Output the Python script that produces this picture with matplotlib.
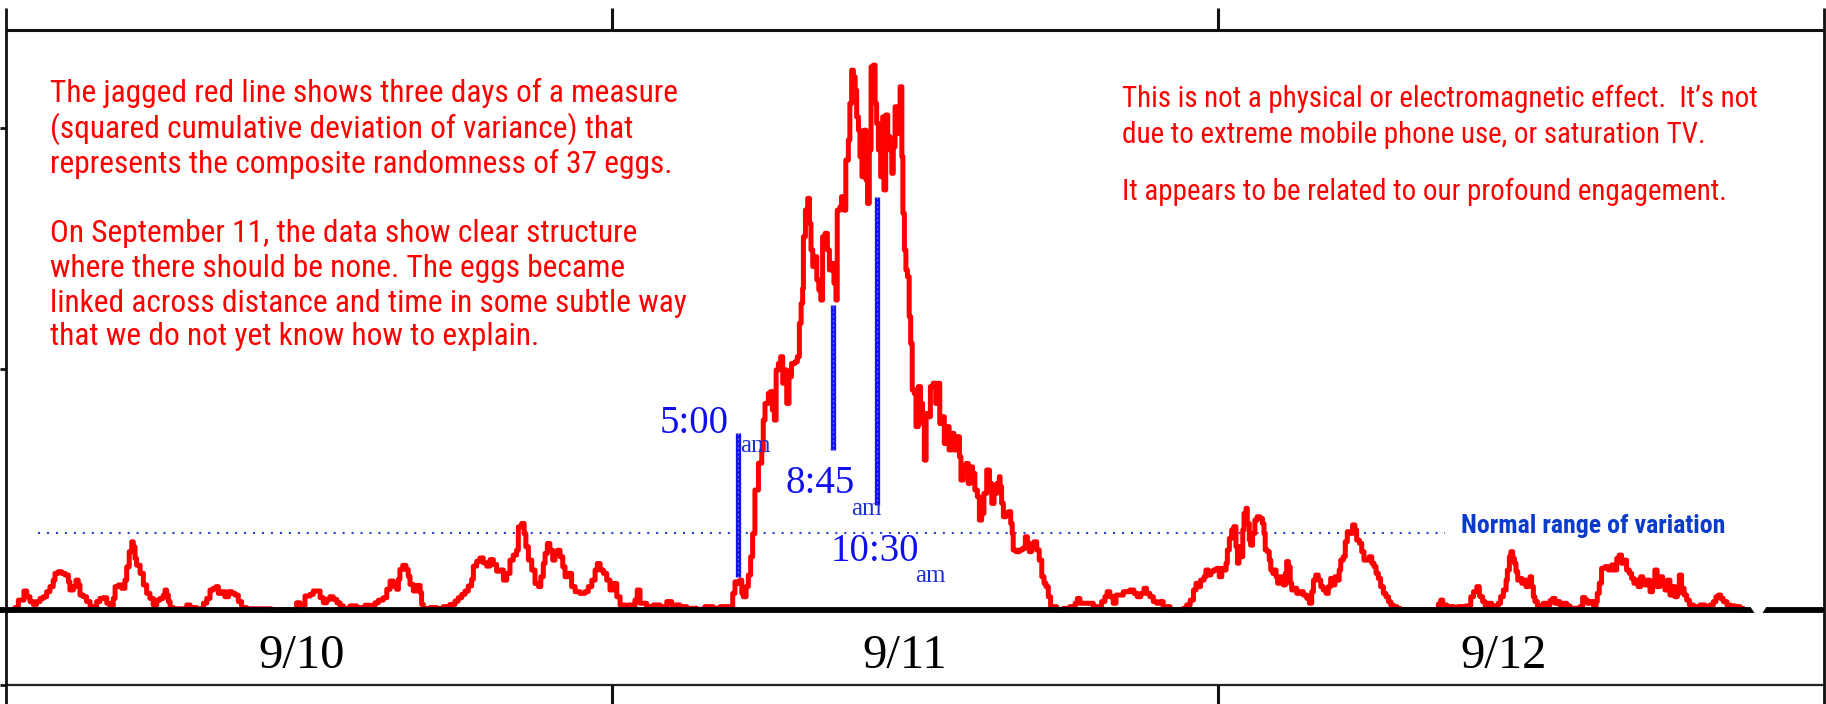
import matplotlib
matplotlib.use("Agg")
import matplotlib.pyplot as plt
from matplotlib import font_manager

# ---------------- data (hours since 9/10 00:00, deviation measure) ----------------
hours = [
    0.30, 0.36, 0.49, 0.71, 0.82, 0.95, 1.08, 1.21, 1.35, 1.48, 1.61, 1.74, 1.87, 1.94, 2.07, 2.20, 2.34,
    2.47, 2.53, 2.67, 2.77, 2.86, 2.93, 3.06, 3.19, 3.33, 3.46, 3.59, 3.72, 3.85, 3.99, 4.12, 4.25, 4.32,
    4.45, 4.58, 4.71, 4.78, 4.88, 4.98, 5.04, 5.11, 5.17, 5.31, 5.44, 5.57, 5.70, 5.83, 5.97, 6.10, 6.23,
    6.30, 6.36, 6.43, 6.50, 6.63, 6.89, 7.16, 7.29, 7.55, 7.82, 7.95, 8.08, 8.21, 8.32, 8.41, 8.54, 8.67,
    8.81, 8.94, 9.07, 9.20, 9.33, 9.53, 10.50,
    11.51, 11.64, 11.84, 12.04, 12.17, 12.30, 12.44, 12.57, 12.70, 12.83, 12.96, 13.10, 13.23, 13.36,
    13.62, 13.89, 14.22, 14.42, 14.61, 14.75, 14.94, 15.08, 15.21, 15.34, 15.47, 15.54, 15.60, 15.71,
    15.84, 15.93, 16.00, 16.13, 16.26, 16.40, 16.46, 16.53, 16.79, 17.06, 17.32, 17.58, 17.78, 17.91,
    18.05, 18.18, 18.31, 18.44, 18.51, 18.64, 18.77, 18.90, 19.04, 19.17, 19.30, 19.43,
    19.56, 19.70, 19.83, 19.96, 20.09, 20.22, 20.29, 20.42, 20.52, 20.59, 20.69, 20.82, 20.95, 21.09,
    21.18, 21.28, 21.35, 21.44, 21.54, 21.65, 21.74, 21.84, 21.94, 22.05, 22.14, 22.27, 22.40, 22.54,
    22.73, 22.93, 23.06, 23.20, 23.33, 23.42, 23.53, 23.66, 23.79, 23.92, 24.05, 24.19, 24.32, 24.52,
    24.65, 24.78, 24.91, 25.00, 25.11, 25.37, 25.64, 25.90, 26.17, 26.36, 26.69, 26.96, 27.35, 27.68,
    28.01, 28.28, 28.68, 28.78, 28.87, 28.97, 29.07, 29.14, 29.20, 29.31, 29.40, 29.49, 29.57,
    29.66, 29.80, 29.93, 29.99, 30.06, 30.19, 30.28, 30.35, 30.43, 30.50, 30.59, 30.68, 30.76, 30.85,
    30.92, 31.01, 31.11, 31.25, 31.34, 31.42, 31.49, 31.55, 31.58, 31.66, 31.75, 31.82, 31.88, 31.95,
    32.04, 32.11, 32.19, 32.27, 32.34, 32.44, 32.53, 32.61, 32.70, 32.79, 32.87, 32.92, 33.03, 33.09,
    33.19, 33.26, 33.36, 33.42, 33.49, 33.56, 33.63, 33.69, 33.76, 33.82, 33.90, 33.98, 34.06, 34.12,
    34.19, 34.26, 34.35, 34.42, 34.48, 34.55, 34.64, 34.72, 34.77, 34.84, 34.92, 35.01, 35.08, 35.14,
    35.21, 35.28, 35.35, 35.41, 35.48, 35.52, 35.58, 35.64, 35.70, 35.77, 35.83, 35.89, 35.97, 36.04,
    36.13, 36.22, 36.30, 36.37, 36.44, 36.53, 36.61, 36.72, 36.82, 36.92, 36.98, 37.08, 37.16, 37.25,
    37.35, 37.45, 37.54, 37.65, 37.76, 37.82, 37.91, 38.02, 38.11, 38.18, 38.28, 38.37, 38.47, 38.55,
    38.64, 38.73, 38.84, 38.95, 39.04, 39.13, 39.24, 39.34,
    39.37, 39.43, 39.50, 39.60, 39.70, 39.79, 39.85, 39.89, 40.00, 40.13, 40.26, 40.37, 40.45, 40.53,
    40.62, 40.71, 40.82, 40.92, 41.02, 41.11, 41.19, 41.28, 41.37, 41.61, 41.88, 42.14, 42.34, 42.43,
    42.53, 42.80, 43.06, 43.26, 43.39, 43.52, 43.61, 43.72, 43.85, 43.96, 44.12, 44.25, 44.38, 44.51,
    44.67, 44.80, 44.94, 45.07, 45.17, 45.30, 45.44, 45.57, 45.70, 45.83, 46.10, 46.36, 46.63, 46.76,
    46.90, 47.03, 47.13, 47.22, 47.31, 47.45, 47.52, 47.62, 47.71, 47.82, 47.95, 48.05, 48.15, 48.25,
    48.32, 48.37, 48.45, 48.54, 48.63, 48.71, 48.77,
    48.83, 48.90, 48.98, 49.03, 49.11, 49.16, 49.24, 49.29, 49.37, 49.46, 49.55, 49.66, 49.76, 49.82,
    49.87, 49.95, 50.03, 50.09, 50.17, 50.23, 50.30, 50.36, 50.46, 50.54, 50.59, 50.67, 50.72, 50.79,
    50.86, 50.92, 51.01, 51.12, 51.25, 51.38, 51.52, 51.62, 51.71, 51.78, 51.87, 51.97, 52.07, 52.17,
    52.28, 52.37, 52.46, 52.54, 52.63, 52.73, 52.80, 52.86, 52.96, 53.04, 53.12, 53.23, 53.33, 53.42,
    53.49, 53.60, 53.69, 53.78, 53.89, 53.99, 54.09, 54.18, 54.26, 54.35, 54.44, 54.55, 54.65, 54.75,
    54.84, 54.94, 55.08, 55.21, 55.47, 56.00, 56.53, 56.73, 56.82, 56.90, 57.06, 57.32, 57.52, 57.72,
    57.82, 57.92, 58.01, 58.12, 58.25, 58.35,
    58.38, 58.48, 58.58, 58.71, 58.84, 58.97, 59.10, 59.19, 59.30, 59.41, 59.46, 59.54, 59.60, 59.67,
    59.74, 59.80, 59.87, 59.93, 60.03, 60.12, 60.20, 60.29, 60.36, 60.42, 60.49, 60.55, 60.65, 60.75,
    60.88, 61.02, 61.15, 61.25, 61.35, 61.44, 61.54, 61.68, 61.81, 61.94, 62.20, 62.34, 62.44, 62.53,
    62.63, 62.73, 62.87, 62.97, 63.02, 63.10, 63.19, 63.33, 63.46, 63.59, 63.68, 63.79, 63.89, 63.98,
    64.08, 64.18, 64.29, 64.38, 64.47, 64.55, 64.64, 64.74, 64.82, 64.91, 65.00, 65.11, 65.21, 65.30,
    65.39, 65.50, 65.61, 65.70, 65.80, 65.90, 66.01, 66.10, 66.19, 66.27, 66.36, 66.46, 66.56, 66.67,
    66.83, 67.09, 67.29, 67.49, 67.62, 67.72, 67.82, 67.91, 68.01, 68.15, 68.28, 68.48, 68.67, 68.80,
]

deviation = [
    0.0, 1.0, 4.1, 7.9, 5.5, 3.5, 2.3, 3.5, 4.8, 5.5, 7.6, 9.7, 12.4, 15.2, 15.9, 15.2, 14.5,
    11.7, 8.3, 9.7, 12.4, 10.4, 6.2, 5.5, 3.5, 1.4, 1.0, 3.5, 4.8, 5.1, 2.8, 1.4, 4.8, 9.7,
    10.4, 9.0, 12.4, 17.9, 24.2, 28.3, 26.2, 21.4, 18.6, 15.2, 10.4, 6.9, 4.8, 2.1, 4.1, 4.8, 6.2,
    8.3, 6.2, 3.5, 1.0, 0.5, 0.5, 2.1, 1.0, 0.5, 2.8, 4.8, 8.3, 9.0, 9.7, 6.9, 7.6, 5.5,
    7.6, 6.9, 6.2, 3.5, 1.0, 0.5, 0.0,
    3.0, 1.0, 5.8, 6.5, 7.9, 7.9, 5.1, 3.0, 4.4, 5.5, 4.4, 3.0, 1.7, 0.6,
    1.7, 1.0, 2.0, 1.7, 3.0, 4.1, 5.1, 8.6, 12.0, 9.9, 8.6, 12.7, 16.8, 18.5,
    16.8, 14.0, 10.6, 7.9, 10.2, 7.2, 2.3, 0.6, 1.0, 0.6, 1.4, 2.3, 3.7, 5.1,
    6.5, 7.9, 10.0, 12.7, 18.2, 20.2, 21.6, 19.6, 18.2, 20.9, 18.9, 16.1,
    16.6, 12.4, 15.2, 20.7, 22.8, 24.8, 34.5, 35.9, 31.7, 26.2, 20.7, 16.6, 11.0, 9.7,
    13.8, 19.3, 23.5, 27.6, 24.8, 20.7, 23.5, 24.8, 22.1, 17.9, 13.8, 15.2, 9.7, 7.6,
    6.9, 7.6, 9.7, 12.4, 16.6, 19.3, 16.6, 15.2, 12.4, 8.3, 11.0, 5.5, 2.1, 1.4,
    2.1, 1.4, 4.1, 8.3, 2.8, 1.4, 2.1, 1.4, 3.5, 2.1, 1.4, 0.7, 0.3, 1.4,
    0.7, 1.4, 0.7, 6.9, 11.7, 11.0, 12.4, 6.9, 5.5, 9.7, 14.5, 22.1, 31.7,
    49.8, 60.9, 66.4, 78.8, 85.7, 89.9, 90.6, 83.0, 78.8, 99.6, 102.3, 105.1, 94.1, 99.6,
    85.7, 96.8, 102.3, 103.0, 105.1, 118.9, 127.2, 133.4, 154.9, 166.0, 170.8, 160.4, 149.4, 142.5,
    146.6, 137.0, 132.8, 128.6, 154.9, 156.3, 149.4, 141.1, 143.8, 135.6, 128.6, 165.9, 167.3, 171.5,
    165.9, 186.7, 195.0, 210.2, 224.0, 221.2, 215.7, 204.6, 199.1, 188.1, 179.8, 199.1, 178.4, 168.7,
    190.9, 225.4, 226.1, 210.2, 201.9, 190.9, 179.8, 204.6, 174.3, 205.4, 196.4, 190.9, 181.2, 192.2,
    208.8, 197.8, 204.6, 217.1, 188.1, 164.6, 149.4, 141.1, 138.3, 121.7, 110.6, 91.3, 89.9, 76.1,
    92.7, 85.7, 77.4, 62.2, 81.5, 80.2, 92.7, 94.1, 85.7, 94.1, 77.4, 80.2, 69.1, 76.1,
    66.4, 73.3, 66.4, 71.9, 63.6, 53.9, 59.4, 60.8, 52.5, 59.4, 56.7, 49.8, 47.0, 37.3,
    40.1, 48.4, 58.1, 52.5, 44.2, 48.4, 52.5, 55.3,
    51.2, 44.3, 38.7, 40.1, 40.8, 35.9, 31.8, 24.9, 24.2, 24.9, 25.6, 30.4, 27.7, 24.2,
    26.9, 28.3, 24.9, 20.7, 13.8, 11.1, 9.7, 5.5, 1.4, 0.0, 0.7, 1.4, 2.8, 4.8,
    2.8, 2.8, 1.4, 0.7, 3.5, 5.5, 7.6, 5.5, 2.8, 6.2, 6.2, 7.6, 7.6, 8.3,
    6.9, 5.5, 6.9, 9.0, 6.9, 5.5, 3.5, 2.8, 3.5, 1.4, 0.0, 0.0, 0.7, 2.1,
    4.1, 8.3, 11.1, 9.7, 12.4, 13.8, 16.6, 14.5, 15.9, 16.6, 17.3, 13.8, 17.3, 16.6,
    19.4, 24.9, 29.7, 33.2, 34.6, 26.3, 19.4,
    26.3, 22.1, 33.2, 40.1, 42.2, 35.9, 29.0, 26.9, 31.8, 37.3, 38.7, 38.0, 35.9, 31.8,
    24.9, 24.2, 20.7, 16.6, 15.2, 16.6, 13.8, 11.1, 13.8, 12.4, 10.4, 15.2, 20.1, 17.9,
    11.1, 8.3, 9.0, 6.9, 7.6, 6.2, 4.8, 2.8, 7.6, 12.4, 14.5, 12.4, 9.7, 8.3,
    6.9, 9.7, 13.1, 10.4, 13.8, 12.4, 16.6, 20.7, 22.1, 28.3, 32.5, 31.8, 35.3, 33.2,
    29.0, 27.7, 24.2, 20.7, 20.7, 22.1, 19.4, 18.0, 15.2, 13.1, 9.7, 6.9, 5.5, 3.5,
    2.1, 1.4, 0.7, 0.0, 0.0, 0.0, 0.0, 2.5, 4.1, 2.1, 1.4, 1.1, 1.4, 0.7,
    1.7, 1.4, 5.5, 7.6, 9.7, 6.2,
    5.5, 3.5, 1.7, 2.8, 1.4, 1.7, 2.8, 5.5, 8.3, 12.4, 16.6, 22.1, 24.2, 21.4,
    19.4, 15.9, 12.4, 13.1, 11.1, 12.4, 9.7, 12.4, 13.8, 9.7, 5.5, 3.5, 1.7, 1.7,
    2.8, 2.1, 3.9, 4.8, 2.8, 3.5, 2.1, 2.8, 1.7, 0.7, 0.7, 1.4, 5.2, 4.1,
    2.8, 3.5, 1.7, 3.5, 6.9, 11.1, 17.3, 18.0, 16.6, 18.7, 16.6, 21.4, 22.8, 19.4,
    20.7, 16.6, 15.2, 13.1, 11.1, 12.4, 9.7, 13.8, 12.4, 10.4, 12.4, 7.6, 11.1, 16.6,
    9.7, 13.8, 10.4, 8.3, 12.4, 6.2, 9.7, 5.5, 6.9, 14.5, 9.0, 6.2, 4.1, 2.1,
    1.4, 2.1, 1.4, 2.1, 3.5, 5.5, 6.2, 4.8, 3.5, 2.1, 1.7, 1.4, 0.7, 0.0,
]

day_labels = ["9/10", "9/11", "9/12"]
day_label_hours = [11.7, 35.6, 59.3]
normal_level = 32.0

event_labels = ["5:00", "8:45", "10:30"]
event_hours = [29.0, 32.75, 34.5]
event_low = [13.7, 66.4, 43.6]
event_high = [73.5, 126.6, 171.5]

left_text = [
    "The jagged red line shows three days of a measure",
    "(squared cumulative deviation of variance) that",
    "represents the composite randomness of 37 eggs.",
    "On September 11, the data show clear structure",
    "where there should be none. The eggs became",
    "linked across distance and time in some subtle way",
    "that we do not yet know how to explain.",
]
right_text = [
    "This is not a physical or electromagnetic effect.  It\u2019s not",
    "due to extreme mobile phone use, or saturation TV.",
    "It appears to be related to our profound engagement.",
]

# ---------------- fonts ----------------
import logging
logging.getLogger("matplotlib.font_manager").setLevel(logging.ERROR)
from matplotlib.textpath import TextPath
from matplotlib.font_manager import FontProperties

installed = {f.name for f in font_manager.fontManager.ttflist}
narrow_pref = ["Arial Narrow", "Liberation Sans Narrow", "Roboto Condensed", "Archivo Narrow"]
narrow = next((n for n in narrow_pref if n in installed), "Liberation Sans")
SANS = [narrow, "Liberation Sans"]
SERIF = ["Tinos", "Liberation Serif", "DejaVu Serif"]


def fit_pt(text, target_px, cap, weight="normal"):
    w = TextPath((0, 0), text, size=100, prop=FontProperties(family=SANS, weight=weight)).get_extents().width
    return min(cap, target_px / (w / 100.0) / (100 / 72.0))


LEFT_PT = fit_pt(left_text[0], 625.0, 22.6)
RIGHT_PT = fit_pt(right_text[0], 636.0, 22.6)
BOLD_PT = fit_pt("Normal range of variation", 262.0, 19.0, "bold")

W, H = 1826, 704
fig = plt.figure(figsize=(W / 100, H / 100), dpi=100)
ax = fig.add_axes([0, 0, 1, 1])
PXH = 25.25   # pixels per hour
PXV = 2.41    # pixels per deviation unit
ax.set_xlim(-6 / PXH, 1820 / PXH)
ax.set_ylim(-94 / PXV, 610 / PXV)
ax.axis("off")


def fx(px):
    return px / W


def fy(py):
    return 1 - py / H


TOP_V = 580 / PXV
TICKTOP_V = 602 / PXV
LOWER_V = -75 / PXV
Y0, Y1 = ax.get_ylim()
X0, X1 = ax.get_xlim()
END_H = 72.0
k = "#111111"

# frame
ax.plot([0, END_H], [TOP_V, TOP_V], color=k, lw=2.2, solid_capstyle="butt")
ax.plot([0, END_H], [LOWER_V, LOWER_V], color="#222222", lw=1.6, solid_capstyle="butt")
for xh in (0, END_H):
    ax.plot([xh, xh], [Y0, TICKTOP_V], color=k, lw=2.0, solid_capstyle="butt")
for xh in (24, 48):
    ax.plot([xh, xh], [TOP_V, TICKTOP_V], color=k, lw=2.2, solid_capstyle="butt")
    ax.plot([xh, xh], [LOWER_V, Y0], color=k, lw=2.2, solid_capstyle="butt")
for yv in (100, 200, LOWER_V):
    ax.plot([X0, 0], [yv, yv], color=k, lw=2.0, solid_capstyle="butt")

# normal range dotted line
ax.plot([1.27, 57.0], [normal_level, normal_level], color="#2244d8", lw=1.5,
        dashes=(1, 3.3), dash_capstyle="butt")

# data
ax.plot(hours, deviation, color="#ff0000", lw=3.6, drawstyle="steps-post", zorder=3)

# baseline
ax.plot([X0, END_H], [0, 0], color="black", lw=4.2, solid_capstyle="butt", zorder=4)
ax.fill([69.07, 69.74, 69.54, 69.27], [1.6, 1.6, -1.6, -1.6], color="white", zorder=5, lw=0)

# event bars
for xh, lo, hi in zip(event_hours, event_low, event_high):
    ax.plot([xh, xh], [lo, hi], color="#1414f0", lw=3.8, solid_capstyle="butt", zorder=5)
    ax.plot([xh, xh], [lo, hi], color="#9aa0ff", lw=0.8, dashes=(1, 3), zorder=6)

# event labels
blue = "#1010ee"
lab_pos = [(694, 433), (820, 493), (875, 561)]
am_pos = [(755, 452), (866, 515), (930, 582)]
for lab, (px, py) in zip(event_labels, lab_pos):
    fig.text(fx(px), fy(py), lab, family=SERIF, fontsize=28, color=blue, ha="center", va="baseline")
for (px, py) in am_pos:
    fig.text(fx(px), fy(py), "am", family=SERIF, fontsize=18, color="#1a30d0", ha="center", va="baseline")

fig.text(fx(1461), fy(533), "Normal range of variation", family=SANS, fontsize=BOLD_PT,
         fontweight="bold", color="#0b3bcc", ha="left", va="baseline")

# day labels
for lab, xh in zip(day_labels, day_label_hours):
    ax.text(xh, -58 / PXV, lab, family=SERIF, fontsize=35, color="black", ha="center", va="baseline")

# red annotations
left_base = [102, 138, 173, 242, 277, 312, 345]
for line, py in zip(left_text, left_base):
    fig.text(fx(50), fy(py), line, family=SANS, fontsize=LEFT_PT, color="#ff0000", ha="left", va="baseline")
right_base = [107, 143, 200]
for line, py in zip(right_text, right_base):
    fig.text(fx(1122), fy(py), line, family=SANS, fontsize=RIGHT_PT, color="#ff0000", ha="left", va="baseline")

fig.savefig("out.png", dpi=100, facecolor="white")
